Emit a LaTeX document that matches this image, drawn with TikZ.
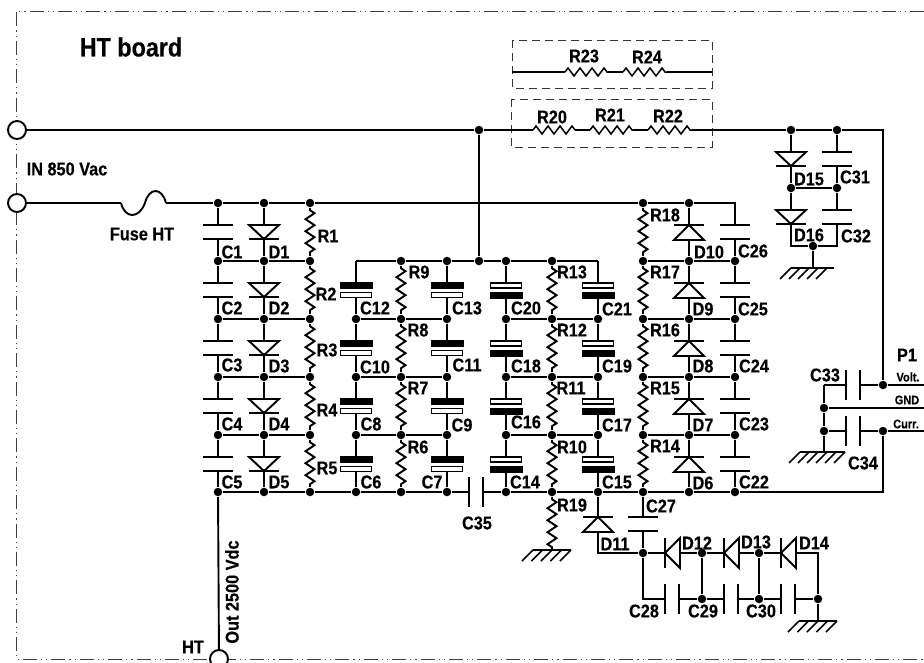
\documentclass[tikz,border=0pt]{standalone}
\usepackage{fontspec}
\setmainfont{Liberation Sans}[FakeStretch=0.88, BoldFeatures={FakeBold=0.35}]
\usetikzlibrary{decorations.pathmorphing}
\tikzset{
  jn/.style={circle, fill=black, inner sep=0pt, minimum size=8.5pt},
  term/.style={circle, draw=black, fill=white, inner sep=0pt, minimum size=18pt},
  lbl/.style={font=\bfseries\fontsize{18.5}{20}\selectfont, inner sep=0pt},
  biglbl/.style={font=\bfseries\fontsize{26.5}{28}\selectfont, inner sep=0pt},
  smalllbl/.style={font=\bfseries\fontsize{12.5}{14}\selectfont, inner sep=0pt},
  framel/.style={line width=0.8pt, black!75, dash pattern=on 14pt off 4pt on 1.2pt off 4pt on 1.2pt off 4pt},
  boxdash/.style={line width=0.8pt, black!80, dash pattern=on 8pt off 5pt},
  res/.style={decorate, decoration={zigzag, segment length=12pt, amplitude=4.5pt, pre length=2pt, post length=2pt}},
  pics/capv/.style={code={
    \fill[white] (-14,22) rectangle (14,36);
    \draw (-15,22) -- (15,22);
    \draw (-15,36) -- (15,36);
  }},
  pics/diodedn/.style={code={
    \draw[fill=white] (-15,22) -- (15,22) -- (0,36) -- cycle;
    \draw (-15,36) -- (15,36);
  }},
  pics/diodeup/.style={code={
    \draw[fill=white] (0,22) -- (15,37) -- (-15,37) -- cycle;
    \draw (-15,22) -- (15,22);
  }},
  pics/polup/.style={code={
    \fill[white] (-14,27) rectangle (14,31);
    \fill (-16.5,21) rectangle (16.5,27.5);
    \draw[line width=1.3pt, fill=white] (-15.5,31.5) rectangle (15.5,36.5);
  }},
  pics/poldn/.style={code={
    \fill[white] (-14,27) rectangle (14,31);
    \draw[line width=1.3pt, fill=white] (-15.5,22) rectangle (15.5,27);
    \fill (-16.5,31) rectangle (16.5,37.5);
  }},
  pics/gnd/.style n args={3}{code={
    \draw (#1,0) -- (#3,0);
    \foreach \h in {#1,#2,...,#3} \draw[line width=1.5pt] (\h,0) -- ++(-11,11);
  }},
}

\begin{document}
\begin{tikzpicture}[x=1pt, y=-1pt, line width=1.9pt]
  \clip (0,0) rectangle (924,662);
%% board outline
  \draw[framel] (924,11) -- (16.5,11) -- (16.5,659) -- (924,659);
  \draw[boxdash] (512,40) rectangle (712,88);
  \draw[boxdash] (511,99) rectangle (712,147);
%% terminals
  \node[term] (in1) at (17,130) {};
  \node[term] (in2) at (17,203) {};
  \node[term] (ht) at (219,659) {};
%% junctions of the multiplier
  \foreach \col/\xx in {a/218,b/264,c/310,j/643,k/689}
    \node[jn] (\col0) at (\xx,203) {};
  \foreach \col/\xx in {a/218,b/264,c/310,e/401,f/447,g/506,h/552,j/643,k/689,l/735}
    \node[jn] (\col1) at (\xx,261) {};
  \foreach \col/\xx in {a/218,b/264,c/310,d/356,e/401,f/447,g/506,h/552,i/598,j/643,k/689,l/735}
    \foreach \row/\yy in {2/319,3/377,4/435,5/492}
      \node[jn] (\col\row) at (\xx,\yy) {};
  \coordinate (l0) at (735,203);
  \coordinate (d1) at (356,261);
  \coordinate (i1) at (598,261);
  \node[jn] (mid1) at (479,261) {};
  \node[jn] (rail1) at (479,130) {};
%% right side junctions
  \node[jn] (d15t) at (791,130) {};
  \node[jn] (c31t) at (837,130) {};
  \coordinate (railc) at (883,130);
  \node[jn] (d15b) at (791,188) {};
  \node[jn] (c31b) at (837,188) {};
  \coordinate (d16b) at (791,246);
  \coordinate (c32b) at (837,246);
  \node[jn] (gnda) at (813,246) {};
  \coordinate (gndae) at (813,268);
%% output connector
  \node[jn] (volt) at (883,385) {};
  \node[jn] (curr) at (883,431) {};
  \coordinate (voltr) at (924,385);
  \coordinate (gndr) at (924,408);
  \coordinate (currr) at (924,431);
  \coordinate (retc) at (883,492);
  \coordinate (c33a) at (824,385);
  \node[jn] (gndb) at (824,408) {};
  \node[jn] (gndc) at (824,431) {};
  \coordinate (gndce) at (824,452);
%% lower ladder
  \coordinate (i5b) at (598,495);
  \coordinate (j5b) at (643,495);
  \node[jn] (j6) at (643,553) {};
  \node[jn] (m1) at (702,553) {};
  \node[jn] (m2) at (759,553) {};
  \coordinate (n0) at (818,553);
  \coordinate (c28a) at (643,599);
  \node[jn] (m1b) at (702,599) {};
  \node[jn] (m2b) at (759,599) {};
  \node[jn] (n1) at (818,599) {};
  \coordinate (gndde) at (818,621);
  \coordinate (r19e) at (552,550);
%% resistor ends on the rails
  \foreach \nm/\xa/\xb in {r20/533/575,r21/590/633,r22/648/692} {
    \coordinate (\nm a) at (\xa,130);
    \coordinate (\nm b) at (\xb,130);
  }
  \foreach \nm/\xa/\xb in {r23/565/608,r24/623/667} {
    \coordinate (\nm a) at (\xa,72);
    \coordinate (\nm b) at (\xb,72);
  }
  \coordinate (boxl) at (512,72);
  \coordinate (boxr) at (712,72);
  \coordinate (fusea) at (121,203);
  \coordinate (fusem) at (145,203);
  \coordinate (fuseb) at (166,203);
%% wires
  \draw (in1) -- (rail1) -- (r20a);
  \draw (r20b) -- (r21a) (r21b) -- (r22a) (r22b) -- (d15t) -- (c31t) -- (railc) -- (volt) -- (voltr);
  \draw (boxl) -- (r23a) (r23b) -- (r24a) (r24b) -- (boxr);
  \draw (in2) -- (fusea) (fuseb) -- (a0) -- (b0) -- (c0) -- (j0) -- (k0) -- (l0) -- (l1);
  \draw (fusea) .. controls (125,219) and (139,219) .. (fusem) .. controls (149,187) and (162,187) .. (fuseb);
  \draw (rail1) -- (mid1);
  \draw (d1) -- (e1) -- (f1) -- (mid1) -- (g1) -- (h1) -- (i1);
  \draw (a1) -- (b1) -- (c1) (j1) -- (k1) -- (l1);
  \foreach \row in {2,3,4} {
    \draw (a\row) -- (b\row) -- (c\row);
    \draw (d\row) -- (e\row) -- (f\row);
    \draw (g\row) -- (h\row) -- (i\row);
    \draw (j\row) -- (k\row) -- (l\row);
  }
  \draw (a5) -- (b5) -- (c5) -- (d5) -- (e5) -- (f5) -- (g5) -- (h5) -- (i5) -- (j5) -- (k5) -- (l5) -- (retc) -- (curr) -- (currr);
  \draw (a5) -- (ht);
  \foreach \col in {a,b,k,l}
    \foreach \ra/\rb in {0/1,1/2,2/3,3/4,4/5}
      \draw (\col\ra) -- (\col\rb);
  \foreach \col in {d,f,g,i}
    \foreach \ra/\rb in {1/2,2/3,3/4,4/5}
      \draw (\col\ra) -- (\col\rb);
%% resistors
  \foreach \col in {c,j}
    \foreach \ra/\rb in {0/1,1/2,2/3,3/4,4/5}
      \draw[res] (\col\ra) -- (\col\rb);
  \foreach \col in {e,h}
    \foreach \ra/\rb in {1/2,2/3,3/4,4/5}
      \draw[res] (\col\ra) -- (\col\rb);
  \draw[res] (h5) -- (r19e);
  \foreach \nm in {r20,r21,r22,r23,r24}
    \draw[res, line width=1.5pt, decoration={amplitude=4pt, pre length=0pt, post length=0pt}] (\nm a) -- (\nm b);
%% right stack and connector
  \draw (d15t) -- (d15b) -- (d16b) -- (gnda) -- (c32b) -- (c31b) -- (c31t);
  \draw (d15b) -- (c31b);
  \draw (gnda) -- (gndae);
  \draw (c33a) -- (volt);
  \draw (c33a) -- (gndb) -- (gndc) -- (gndce);
  \draw (gndb) -- (gndr);
  \draw (gndc) -- (curr);
%% lower ladder wires
  \draw (i5) |- (j6);
  \draw (j5) -- (j6) -- (c28a) -- (m1b) -- (m2b) -- (n1) -- (gndde);
  \draw (j6) -- (m1) -- (m2) -- (n0) -- (n1);
  \draw (m1) -- (m1b);
  \draw (m2) -- (m2b);
%% parts
  \foreach \row in {0,1,2,3,4} {
    \pic at (a\row) {capv};
    \pic at (b\row) {diodedn};
    \pic at (k\row) {diodeup};
    \pic at (l\row) {capv};
  }
  \foreach \row in {1,2,3,4} {
    \pic at (d\row) {polup};
    \pic at (f\row) {polup};
    \pic at (g\row) {poldn};
    \pic at (i\row) {poldn};
  }
  \pic at (d15t) {diodedn};
  \pic at (d15b) {diodedn};
  \pic at (c31t) {capv};
  \pic at (c31b) {capv};
  \pic at (i5b) {diodeup};
  \pic at (j5b) {capv};
  \pic[rotate=90] at (f5) {capv};
  \pic[rotate=90] at (c33a) {capv};
  \pic[rotate=90] at (gndc) {capv};
  \pic[rotate=90] at (j6) {diodeup};
  \pic[rotate=90] at (m1) {diodeup};
  \pic[rotate=90] at (m2) {diodeup};
  \pic[rotate=90] at (c28a) {capv};
  \pic[rotate=90] at (m1b) {capv};
  \pic[rotate=90] at (m2b) {capv};
%% grounds
  \pic at (gndae) {gnd={-22}{-13}{21}};
  \pic at (gndce) {gnd={-24}{-15}{21}};
  \pic at (gndde) {gnd={-19}{-9.5}{19}};
  \pic at (r19e) {gnd={-19}{-9.5}{19}};
%% labels
  \foreach \lab/\xx/\yy in {C1/232/252,D1/279/252,R1/328/236,C2/232/308,D2/279/308,R2/326/294,
    C3/232/365,D3/279/366,R3/327/350,C4/232/424,D4/279/424,R4/327/410,C5/232/482,D5/279/482,R5/327/468,
    C12/375/308,C10/375/367,C8/371/424,C6/371/482,R9/419/272,R8/418/330,R7/418/388,R6/418/447,
    C13/467/308,C11/467/365,C9/462/425,C7/432/482,C20/526/308,C18/526/366,C16/526/422,C14/525/482,
    R13/572/272,R12/572/330,R11/571/388,R10/572/447,R19/572/505,C21/617/309,C19/617/366,C17/617/425,C15/617/482,
    C35/477/523,C27/661/506,R18/665/215,R17/665/272,R16/665/330,R15/665/388,R14/665/446,
    D10/709/252,C26/753/251,D9/703/309,C25/753/309,D8/703/366,C24/754/366,D7/703/425,C23/754/424,D6/703/483,C22/754/482,
    D15/809/179,C31/855/177,D16/809/235,C32/856/236,C33/825/375,C34/863/463,P1/907/355,
    D11/615/544,D12/697/543,D13/756/542,D14/814/543,C28/644/611,C29/703/611,C30/761/611,
    R20/552/117,R21/610/115,R22/668/116,R23/584/56,R24/647/57,HT/193/647}
    \node[lbl] (lab\lab) at (\xx,\yy) {\lab};
  \node[biglbl] (title) at (131,47) {HT board};
  \node[lbl] (inlab) at (67,169) {IN 850 Vac};
  \node[lbl] (fuselab) at (142,234) {Fuse HT};
  \node[lbl, rotate=90] (outlab) at (232,592) {Out 2500 Vdc};
  \node[smalllbl] (voltlab) at (908,377) {Volt.};
  \node[smalllbl] (gndlab) at (907,400) {GND};
  \node[smalllbl] (currlab) at (906,424) {Curr.};
\end{tikzpicture}
\end{document}
